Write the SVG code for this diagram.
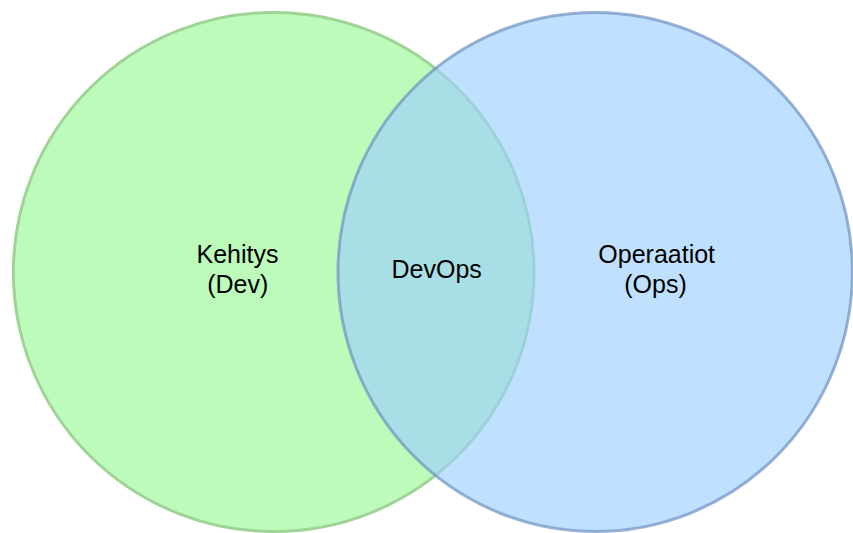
<svg xmlns="http://www.w3.org/2000/svg" width="853" height="533" viewBox="0 0 853 533">
  <style>
    .lbl { font-family: "Liberation Sans", Arial, Helvetica, sans-serif; font-size: 25px; fill: #000000; text-anchor: middle; }
  </style>
  <rect x="0" y="0" width="853" height="533" fill="#ffffff"/>
  <!-- Development set -->
  <g id="dev">
    <ellipse cx="273.7" cy="272" rx="260.3" ry="259.5" fill="#bdfbbb" stroke="#9fd496" stroke-width="3"/>
    <text class="lbl" x="237.5" y="263.3">Kehitys</text>
    <text class="lbl" x="237.8" y="292.7">(Dev)</text>
  </g>
  <!-- Operations set, translucent so the overlap shows -->
  <g id="ops">
    <ellipse cx="595.2" cy="272" rx="257.2" ry="259.5" fill="#9dcffd" fill-opacity="0.65" stroke="#6c8ebf" stroke-opacity="0.68" stroke-width="3"/>
    <text class="lbl" x="656.7" y="263.3">Operaatiot</text>
    <text class="lbl" x="655.5" y="292.7">(Ops)</text>
  </g>
  <!-- Intersection label -->
  <g id="devops">
    <text class="lbl" x="436.7" y="278.3">DevOps</text>
  </g>
  <g id="connectors"/>
</svg>
